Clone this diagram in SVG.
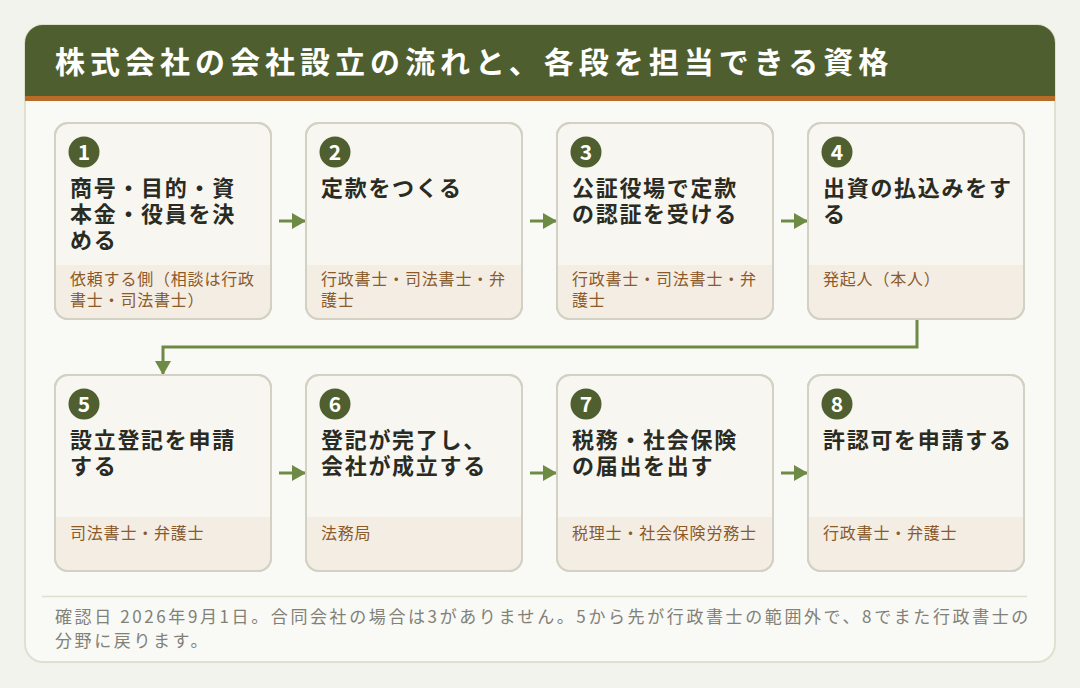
<svg xmlns="http://www.w3.org/2000/svg" width="1080" height="688" viewBox="0 0 1080 688">
<defs>
<style>
.card{fill:#f7f6f1;stroke:#d2d1c3;stroke-width:2}
.band{fill:#f4ede3}
.badge{fill:#4f5f2f}
.num{font-family:"Noto Sans CJK JP","Noto Sans",sans-serif;font-weight:700;font-size:21px;fill:#ffffff;text-anchor:middle}
.ttl{font-family:"Noto Sans CJK JP",sans-serif;font-weight:700;font-size:22px;letter-spacing:1.7px;fill:#2a2b22}
.who{font-family:"Noto Sans CJK JP",sans-serif;font-size:16px;letter-spacing:0.8px;fill:#8b5a2b}
.note{font-family:"Noto Sans CJK JP",sans-serif;font-size:17px;letter-spacing:2.6px;fill:#818178}
.conn{fill:none;stroke:#6e8b46;stroke-width:3}
</style>
<marker id="ah" markerUnits="userSpaceOnUse" markerWidth="14" markerHeight="16" refX="13" refY="8" orient="auto">
<path d="M0,0 L14,8 L0,16 z" fill="#6e8b46"/>
</marker>
<clipPath id="panelClip"><rect x="25" y="25" width="1030" height="637" rx="18"/></clipPath>
</defs>
<rect width="1080" height="688" fill="#f3f3ee"/>
<rect x="25" y="25" width="1030" height="637" rx="18" fill="#f9f9f6" stroke="#dfe0cf" stroke-width="2"/>
<g id="header" clip-path="url(#panelClip)">
<rect x="25" y="25" width="1030" height="71" fill="#4f5e2f"/>
<rect x="25" y="96" width="1030" height="5" fill="#b86b26"/>
<text x="55" y="73" font-family="'Noto Sans CJK JP',sans-serif" font-weight="700" font-size="30" letter-spacing="5" fill="#ffffff">株式会社の会社設立の流れと、各段を担当できる資格</text>
</g>

<g id="connectors">
<line class="conn" x1="279" y1="221" x2="305" y2="221" marker-end="url(#ah)"/>
<line class="conn" x1="530" y1="221" x2="556" y2="221" marker-end="url(#ah)"/>
<line class="conn" x1="781" y1="221" x2="807" y2="221" marker-end="url(#ah)"/>
<path class="conn" d="M917,320 V347 H163 V374" marker-end="url(#ah)"/>
<line class="conn" x1="279" y1="473" x2="305" y2="473" marker-end="url(#ah)"/>
<line class="conn" x1="530" y1="473" x2="556" y2="473" marker-end="url(#ah)"/>
<line class="conn" x1="781" y1="473" x2="807" y2="473" marker-end="url(#ah)"/>
</g>

<g id="step1">
<rect class="card" x="55" y="123" width="216" height="196" rx="13"/>
<path class="band" d="M56,265 H270 V306 a12,12 0 0 1 -12,12 H68 a12,12 0 0 1 -12,-12 Z"/>
<rect x="55" y="123" width="216" height="196" rx="13" fill="none" stroke="#d2d1c3" stroke-width="2"/>
<circle class="badge" cx="84" cy="152" r="15.5"/>
<text class="num" x="84" y="159.5">1</text>
<text class="ttl" x="70" y="196">商号・目的・資</text>
<text class="ttl" x="70" y="222">本金・役員を決</text>
<text class="ttl" x="70" y="248">める</text>
<text class="who" x="70" y="285">依頼する側（相談は行政</text>
<text class="who" x="70" y="306">書士・司法書士）</text>
</g>

<g id="step2">
<rect class="card" x="306" y="123" width="216" height="196" rx="13"/>
<path class="band" d="M307,265 H521 V306 a12,12 0 0 1 -12,12 H319 a12,12 0 0 1 -12,-12 Z"/>
<rect x="306" y="123" width="216" height="196" rx="13" fill="none" stroke="#d2d1c3" stroke-width="2"/>
<circle class="badge" cx="335" cy="152" r="15.5"/>
<text class="num" x="335" y="159.5">2</text>
<text class="ttl" x="321" y="196">定款をつくる</text>
<text class="who" x="321" y="285">行政書士・司法書士・弁</text>
<text class="who" x="321" y="306">護士</text>
</g>

<g id="step3">
<rect class="card" x="557" y="123" width="216" height="196" rx="13"/>
<path class="band" d="M558,265 H772 V306 a12,12 0 0 1 -12,12 H570 a12,12 0 0 1 -12,-12 Z"/>
<rect x="557" y="123" width="216" height="196" rx="13" fill="none" stroke="#d2d1c3" stroke-width="2"/>
<circle class="badge" cx="586" cy="152" r="15.5"/>
<text class="num" x="586" y="159.5">3</text>
<text class="ttl" x="572" y="196">公証役場で定款</text>
<text class="ttl" x="572" y="222">の認証を受ける</text>
<text class="who" x="572" y="285">行政書士・司法書士・弁</text>
<text class="who" x="572" y="306">護士</text>
</g>

<g id="step4">
<rect class="card" x="808" y="123" width="216" height="196" rx="13"/>
<path class="band" d="M809,265 H1023 V306 a12,12 0 0 1 -12,12 H821 a12,12 0 0 1 -12,-12 Z"/>
<rect x="808" y="123" width="216" height="196" rx="13" fill="none" stroke="#d2d1c3" stroke-width="2"/>
<circle class="badge" cx="837" cy="152" r="15.5"/>
<text class="num" x="837" y="159.5">4</text>
<text class="ttl" x="823" y="196">出資の払込みをす</text>
<text class="ttl" x="823" y="222">る</text>
<text class="who" x="823" y="285">発起人（本人）</text>
</g>

<g id="step5">
<rect class="card" x="55" y="375" width="216" height="196" rx="13"/>
<path class="band" d="M56,517 H270 V558 a12,12 0 0 1 -12,12 H68 a12,12 0 0 1 -12,-12 Z"/>
<rect x="55" y="375" width="216" height="196" rx="13" fill="none" stroke="#d2d1c3" stroke-width="2"/>
<circle class="badge" cx="84" cy="404" r="15.5"/>
<text class="num" x="84" y="411.5">5</text>
<text class="ttl" x="70" y="448">設立登記を申請</text>
<text class="ttl" x="70" y="474">する</text>
<text class="who" x="70" y="539">司法書士・弁護士</text>
</g>

<g id="step6">
<rect class="card" x="306" y="375" width="216" height="196" rx="13"/>
<path class="band" d="M307,517 H521 V558 a12,12 0 0 1 -12,12 H319 a12,12 0 0 1 -12,-12 Z"/>
<rect x="306" y="375" width="216" height="196" rx="13" fill="none" stroke="#d2d1c3" stroke-width="2"/>
<circle class="badge" cx="335" cy="404" r="15.5"/>
<text class="num" x="335" y="411.5">6</text>
<text class="ttl" x="321" y="448">登記が完了し、</text>
<text class="ttl" x="321" y="474">会社が成立する</text>
<text class="who" x="321" y="539">法務局</text>
</g>

<g id="step7">
<rect class="card" x="557" y="375" width="216" height="196" rx="13"/>
<path class="band" d="M558,517 H772 V558 a12,12 0 0 1 -12,12 H570 a12,12 0 0 1 -12,-12 Z"/>
<rect x="557" y="375" width="216" height="196" rx="13" fill="none" stroke="#d2d1c3" stroke-width="2"/>
<circle class="badge" cx="586" cy="404" r="15.5"/>
<text class="num" x="586" y="411.5">7</text>
<text class="ttl" x="572" y="448">税務・社会保険</text>
<text class="ttl" x="572" y="474">の届出を出す</text>
<text class="who" x="572" y="539">税理士・社会保険労務士</text>
</g>

<g id="step8">
<rect class="card" x="808" y="375" width="216" height="196" rx="13"/>
<path class="band" d="M809,517 H1023 V558 a12,12 0 0 1 -12,12 H821 a12,12 0 0 1 -12,-12 Z"/>
<rect x="808" y="375" width="216" height="196" rx="13" fill="none" stroke="#d2d1c3" stroke-width="2"/>
<circle class="badge" cx="837" cy="404" r="15.5"/>
<text class="num" x="837" y="411.5">8</text>
<text class="ttl" x="823" y="448">許認可を申請する</text>
<text class="who" x="823" y="539">行政書士・弁護士</text>
</g>

<g id="note">
<line x1="42" y1="596.5" x2="1027" y2="596.5" stroke="#e0e0d0" stroke-width="1.5"/>
<text class="note" x="55" y="623">確認日 2026年9月1日。合同会社の場合は3がありません。5から先が行政書士の範囲外で、8でまた行政書士の</text>
<text class="note" x="55" y="647">分野に戻ります。</text>
</g>
</svg>
